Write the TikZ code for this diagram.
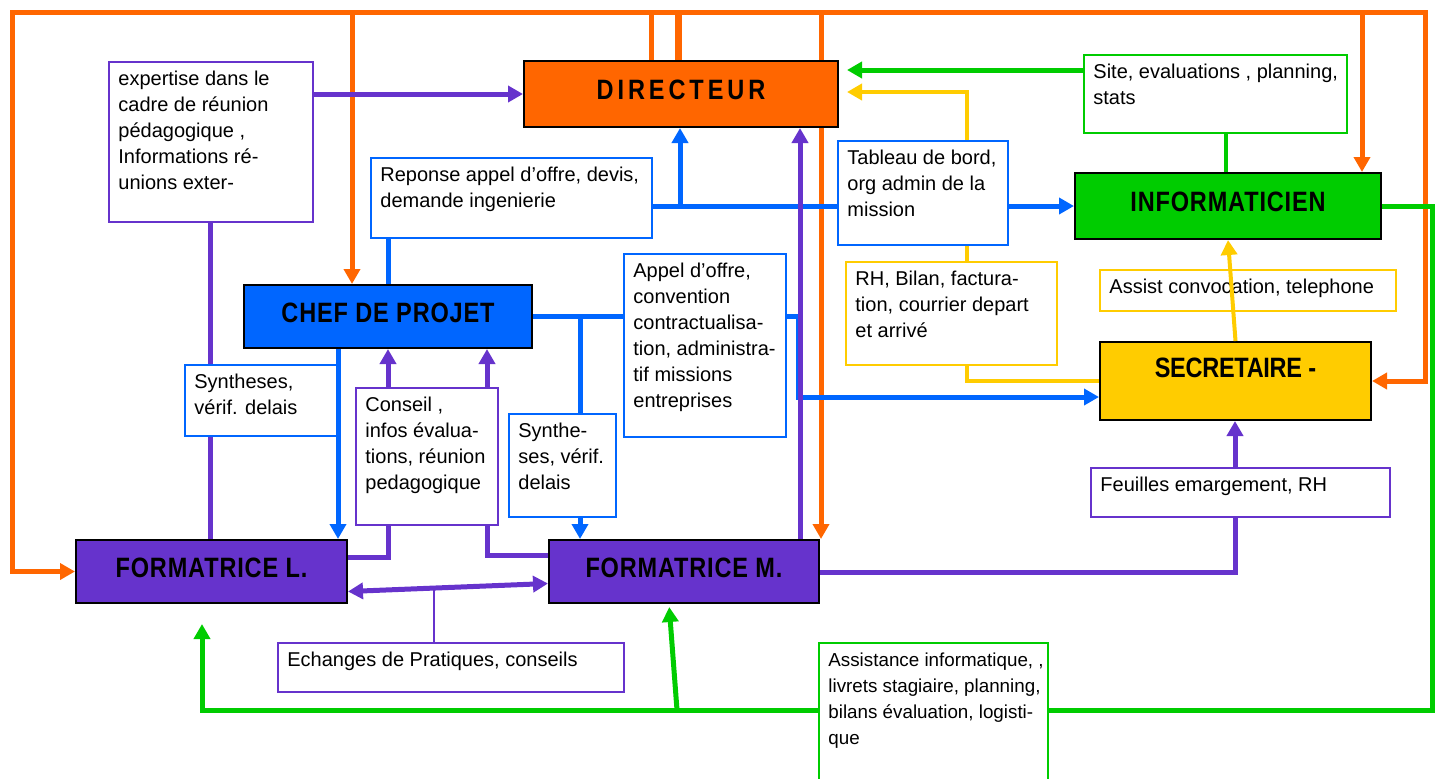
\documentclass[tikz,border=0pt]{standalone}
\usepackage{fontspec}
\setmainfont{Liberation Sans}
\newfontfamily\titlefont{Liberation Sans}[FakeStretch=0.84, LetterSpace=3]
\usepackage{tikz}
\usetikzlibrary{arrows.meta}
\usetikzlibrary{backgrounds,calc}

\definecolor{orga}{HTML}{FF6600}
\definecolor{bleu}{HTML}{0066FF}
\definecolor{vert}{HTML}{00CC00}
\definecolor{jaune}{HTML}{FFCC00}
\definecolor{violet}{HTML}{6633CC}

\tikzset{
  title/.style={draw=black, line width=1pt, anchor=north west, inner sep=0pt,
    font=\titlefont\bfseries\fontsize{14}{16}\selectfont, text depth=4pt},
  infobox/.style={fill=white, line width=0.9pt, anchor=north west, inner sep=0pt},
  infotext/.style={anchor=north west, align=left, inner xsep=5pt, inner ysep=5pt,
    font=\fontsize{10}{13}\selectfont},
  flow/.style={line width=2.5pt, -{Triangle[length=7.5pt,width=8pt]}},
  link/.style={line width=2.5pt},
}

% box with text at its top left: name, x, y, width, height, colour, text
\newcommand{\infobox}[7]{%
  \node[infobox, draw=#6, minimum width=#4pt, minimum height=#5pt] (#1) at (#2,#3) {};
  \node[infotext] (#1-t) at (#1.north west) {#7};
}
\newcommand{\sm}{\fontsize{9.4}{13}\selectfont}

\begin{document}
\begin{tikzpicture}[x=0.5pt, y=-0.5pt]
\useasboundingbox (0,0) rectangle (1435,778);

% the six roles
\node[title, fill=orga, minimum width=157pt, minimum height=33pt] (dir) at (523,60) {\addfontfeature{LetterSpace=14}DIRECTEUR};
\node[title, fill=bleu, minimum width=144pt, minimum height=31.5pt] (chef) at (243,284) {CHEF DE PROJET};
\node[title, fill=vert, minimum width=153pt, minimum height=33pt] (info) at (1074,172) {INFORMATICIEN};
\node[title, fill=jaune, minimum width=135.5pt, minimum height=39pt, text depth=13pt] (secr) at (1099,341) {\addfontfeature{LetterSpace=-1}SECRETAIRE -};
\node[title, fill=violet, minimum width=135.5pt, minimum height=31.5pt] (formL) at (75,539) {FORMATRICE L.};
\node[title, fill=violet, minimum width=135pt, minimum height=31.5pt] (formM) at (548,539) {FORMATRICE M.};

% what goes along the arrows
\infobox{expert}{108}{61}{102}{80}{violet}{expertise dans le\\cadre de réunion\\pédagogique ,\\Informations ré-\\unions exter-}
\infobox{reponse}{370}{157}{140.5}{40}{bleu}{Reponse appel d’offre, devis,\\demande ingenierie}
\infobox{tableau}{837}{140}{85}{52}{bleu}{Tableau de bord,\\org admin de la\\mission}
\infobox{site}{1083}{54}{131.5}{39}{vert}{Site, evaluations , planning,\\stats}
\infobox{rhbilan}{845}{261}{105.5}{51.5}{jaune}{RH, Bilan, factura-\\tion, courrier depart\\et arrivé}
\infobox{assist}{1099}{269}{148}{20.5}{jaune}{Assist convocation, telephone}
\infobox{appel}{623}{253}{81}{91.5}{bleu}{Appel d’offre,\\convention\\contractualisa-\\tion, administra-\\tif missions\\entreprises}
\infobox{synthL}{184}{364}{76}{35.5}{bleu}{Syntheses,\\vérif. delais}
\infobox{conseil}{355}{387}{71}{68.5}{violet}{Conseil ,\\infos évalua-\\tions, réunion\\pedagogique}
\infobox{synthM}{508}{413}{53.5}{51.5}{bleu}{Synthe-\\ses, vérif.\\delais}
\infobox{feuilles}{1090}{467}{149.5}{24.5}{violet}{Feuilles emargement, RH}
\infobox{echanges}{277}{642}{173}{24.5}{violet}{Echanges de Pratiques, conseils}
\infobox{assistinfo}{818}{642}{114.5}{75}{vert}{\sm Assistance informatique, ,\\\sm livrets stagiaire, planning,\\\sm bilans évaluation, logisti-\\\sm que}

\begin{scope}[on background layer]
% directeur
\coordinate (tl) at (12,12);
\coordinate (tr) at (1425,12);
\draw[orga, line width=2.5pt, {Triangle[length=7.5pt,width=8pt]}-{Triangle[length=7.5pt,width=8pt]}]
  (formL.west) -- (tl |- formL.west) -- (tl) -- (tr) -- (tr |- secr.east) -- (secr.east);
\coordinate (o1) at (352,12);
\coordinate (o2) at (651,12);
\coordinate (o3) at (678,12);
\coordinate (o4) at (821,12);
\coordinate (o5) at (1362,12);
\draw[flow, orga] (o1) -- (o1 |- chef.north);
\draw[link, orga] (o2) -- (o2 |- dir.north);
\draw[link, orga, line width=3.5pt] (o3) -- (o3 |- dir.north);
\draw[flow, orga] (o4) -- (o4 |- formM.north);
\draw[flow, orga] (o5) -- (o5 |- info.north);

% informaticien
\coordinate (s1) at ([yshift=-8pt]site.north west);
\draw[flow, vert, shorten >=4pt] (s1) -- (s1 -| dir.east);
\coordinate (g5) at (1226,0);
\draw[link, vert, line width=2pt] (g5 |- site.south) -- (g5 |- info.north);
\coordinate (g1) at (1432,710);
\coordinate (g2) at (202,710);
\coordinate (g3) at (677,710);
\coordinate (g4) at (669,0);
\draw[flow, vert, shorten >=10pt] (info.east) -- (info.east -| g1) -- (g1) -- (g2) -- (g2 |- formL.south);
\draw[flow, vert, shorten >=1.5pt] (g3) -- (g4 |- formM.south);

% secretaire
\coordinate (y1) at (967,92);
\draw[flow, jaune, line width=2pt, shorten >=4pt] (secr.west) -- (secr.west -| y1) -- (y1) -- (y1 -| dir.east);

% chef de projet
\draw[flow, bleu] (reponse.east |- info.west) -- (info.west);
\coordinate (b1) at (680,205);
\draw[flow, bleu] (b1) -- (b1 |- dir.south);
\coordinate (b2) at (388,0);
\draw[link, bleu] (b2 |- reponse.south) -- (b2 |- chef.north);
\draw[link, bleu] (chef.east) -- (chef.east -| appel.west);
\coordinate (b3) at (580,0);
\draw[link, bleu] (b3 |- chef.east) -- (b3 |- synthM.north);
\draw[flow, bleu] (b3 |- synthM.south) -- (b3 |- formM.north);
\coordinate (b4) at (798,397);
\draw[flow, bleu] (appel.east |- chef.east) -- (b4 |- chef.east) -- (b4) -- (b4 -| secr.west);
\coordinate (b5) at (338,0);
\draw[flow, bleu] (b5 |- chef.south) -- (b5 |- formL.north);

% formatrices
\draw[flow, violet] (expert.east |- dir.west) -- (dir.west);
\draw[link, violet] (expert.south) -- (expert.south |- formL.north);
\coordinate (p1) at (388,557);
\draw[flow, violet] (p1 -| formL.east) -- (p1) -- (p1 |- chef.south);
\coordinate (p2) at (487,555);
\draw[flow, violet] (p2 -| formM.west) -- (p2) -- (p2 |- chef.south);
\coordinate (p3) at ([yshift=-10pt]formL.east);
\coordinate (p4) at ([yshift=-6pt]formM.west);
\draw[violet, line width=2.5pt, {Triangle[length=7.5pt,width=8pt]}-{Triangle[length=7.5pt,width=8pt]}] (p3) -- (p4);
\coordinate (p5) at ($(p3)!0.43!(p4)$);
\draw[violet, line width=1pt] (p5) -- (p5 |- echanges.north);
\coordinate (p6) at (800,0);
\draw[flow, violet] (p6 |- formM.north) -- (p6 |- dir.south);
\coordinate (p7) at (1235,572);
\draw[flow, violet] (p7 -| formM.east) -- (p7) -- (p7 |- secr.south);
\end{scope}

\draw[flow, jaune, line width=2pt] (secr.north) -- (info.south);
\end{tikzpicture}
\end{document}
